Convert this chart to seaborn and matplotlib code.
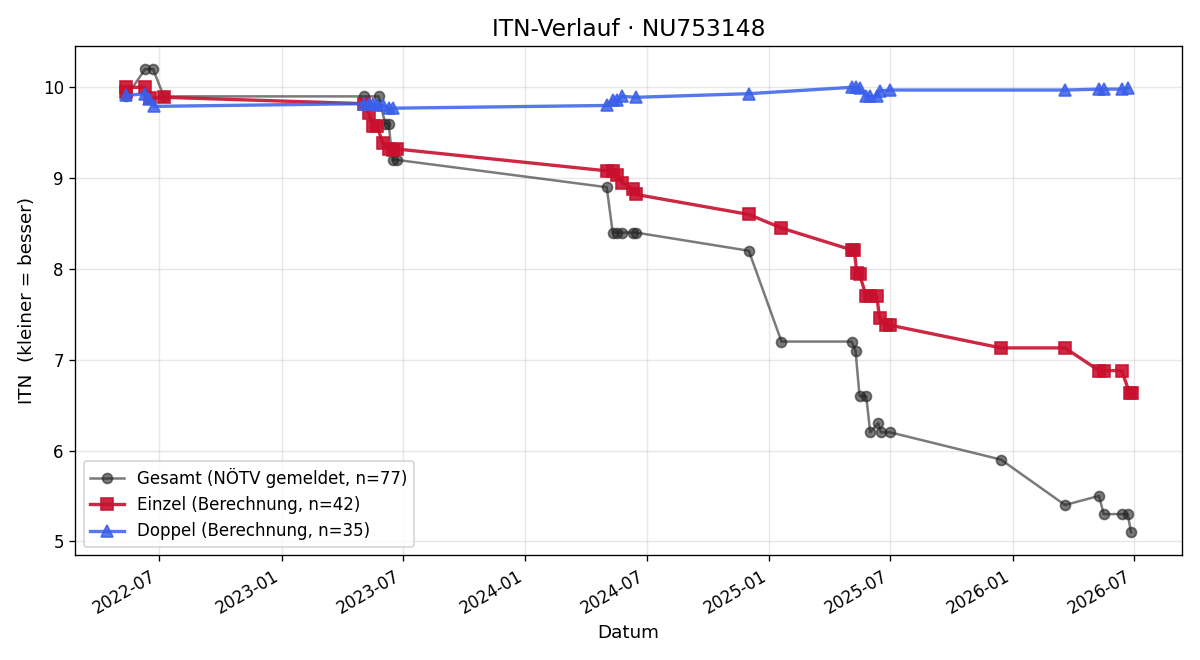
import pandas as pd
import numpy as np
import matplotlib
matplotlib.use("Agg")
import matplotlib.pyplot as plt
import matplotlib.dates as mdates
import seaborn as sns

# Daten

gesamt_datum = [
    "2022-05-13", "2022-06-10", "2022-06-22", "2022-07-08",
    "2023-05-04", "2023-05-26", "2023-06-05", "2023-06-10", "2023-06-16", "2023-06-23",
    "2024-05-02", "2024-05-11", "2024-05-18", "2024-05-25", "2024-06-10", "2024-06-15",
    "2024-12-01", "2025-01-19",
    "2025-05-04", "2025-05-10", "2025-05-16", "2025-05-26", "2025-06-01", "2025-06-13",
    "2025-06-17", "2025-07-01",
    "2025-12-14", "2026-03-20", "2026-05-10", "2026-05-17", "2026-06-13", "2026-06-22",
    "2026-06-27",
]
gesamt_itn = [
    9.9, 10.2, 10.2, 9.9,
    9.9, 9.9, 9.6, 9.6, 9.2, 9.2,
    8.9, 8.4, 8.4, 8.4, 8.4, 8.4,
    8.2, 7.2,
    7.2, 7.1, 6.6, 6.6, 6.2, 6.3,
    6.2, 6.2,
    5.9, 5.4, 5.5, 5.3, 5.3, 5.3,
    5.1,
]

einzel_datum = [
    "2022-05-12", "2022-05-13", "2022-06-10", "2022-06-18", "2022-07-08",
    "2023-05-04", "2023-05-11", "2023-05-17", "2023-05-24", "2023-06-01", "2023-06-10",
    "2023-06-16", "2023-06-23",
    "2024-05-02", "2024-05-11", "2024-05-18", "2024-05-25", "2024-06-10", "2024-06-15",
    "2024-12-01", "2025-01-19",
    "2025-05-04", "2025-05-08", "2025-05-12", "2025-05-16", "2025-05-26", "2025-06-01",
    "2025-06-11", "2025-06-15", "2025-06-24", "2025-07-01",
    "2025-12-14", "2026-03-20",
    "2026-05-10", "2026-05-17", "2026-06-13", "2026-06-25", "2026-06-28",
]
einzel_itn = [
    9.95, 10.0, 10.0, 9.88, 9.89,
    9.82, 9.72, 9.57, 9.57, 9.39, 9.32,
    9.31, 9.32,
    9.08, 9.08, 9.03, 8.95, 8.88, 8.82,
    8.60, 8.45,
    8.21, 8.21, 7.95, 7.94, 7.70, 7.70,
    7.70, 7.46, 7.38, 7.38,
    7.13, 7.13,
    6.88, 6.88, 6.88, 6.63, 6.63,
]

doppel_datum = [
    "2022-05-13", "2022-06-10", "2022-06-16", "2022-06-23",
    "2023-05-04", "2023-05-11", "2023-05-17", "2023-05-24", "2023-06-01", "2023-06-10",
    "2023-06-16",
    "2024-05-02", "2024-05-11", "2024-05-18", "2024-05-25", "2024-06-15",
    "2024-12-01",
    "2025-05-04", "2025-05-10", "2025-05-16", "2025-05-26", "2025-06-01", "2025-06-11",
    "2025-06-15", "2025-07-01",
    "2026-03-20", "2026-05-10", "2026-05-17", "2026-06-13", "2026-06-22",
]
doppel_itn = [
    9.91, 9.93, 9.87, 9.79,
    9.82, 9.82, 9.82, 9.81, 9.80, 9.77,
    9.77,
    9.80, 9.86, 9.86, 9.90, 9.89,
    9.93,
    10.0, 10.0, 9.99, 9.90, 9.90, 9.90,
    9.96, 9.97,
    9.97, 9.98, 9.98, 9.98, 9.99,
]

gesamt = pd.DataFrame({"datum": pd.to_datetime(gesamt_datum), "itn": gesamt_itn})
einzel = pd.DataFrame({"datum": pd.to_datetime(einzel_datum), "itn": einzel_itn})
doppel = pd.DataFrame({"datum": pd.to_datetime(doppel_datum), "itn": doppel_itn})

# Grafik

fig, ax = plt.subplots(figsize=(10, 5.5), dpi=120)

sns.lineplot(data=gesamt, x="datum", y="itn", ax=ax, estimator=None,
             color="#222222", alpha=0.6, linewidth=1.5, marker="o",
             markersize=6, markeredgewidth=1, markeredgecolor="#222222",
             label="Gesamt (NÖTV gemeldet, n=77)")
sns.lineplot(data=einzel, x="datum", y="itn", ax=ax, estimator=None,
             color="#C8102E", alpha=0.9, linewidth=2, marker="s",
             markersize=7, markeredgewidth=1, markeredgecolor="#C8102E",
             label="Einzel (Berechnung, n=42)")
sns.lineplot(data=doppel, x="datum", y="itn", ax=ax, estimator=None,
             color="#3A5FEA", alpha=0.85, linewidth=2, marker="^",
             markersize=7, markeredgewidth=1, markeredgecolor="#3A5FEA",
             label="Doppel (Berechnung, n=35)")

ax.set_title("ITN-Verlauf · NU753148", fontsize=14)
ax.set_xlabel("Datum", fontsize=11)
ax.set_ylabel("ITN  (kleiner = besser)", fontsize=11)
ax.grid(True, alpha=0.3)
ax.xaxis.set_major_locator(mdates.MonthLocator(bymonth=[1, 7]))
ax.xaxis.set_major_formatter(mdates.DateFormatter("%Y-%m"))
ax.legend(loc="lower left")
fig.autofmt_xdate()
fig.tight_layout()
fig.savefig("out.png")
